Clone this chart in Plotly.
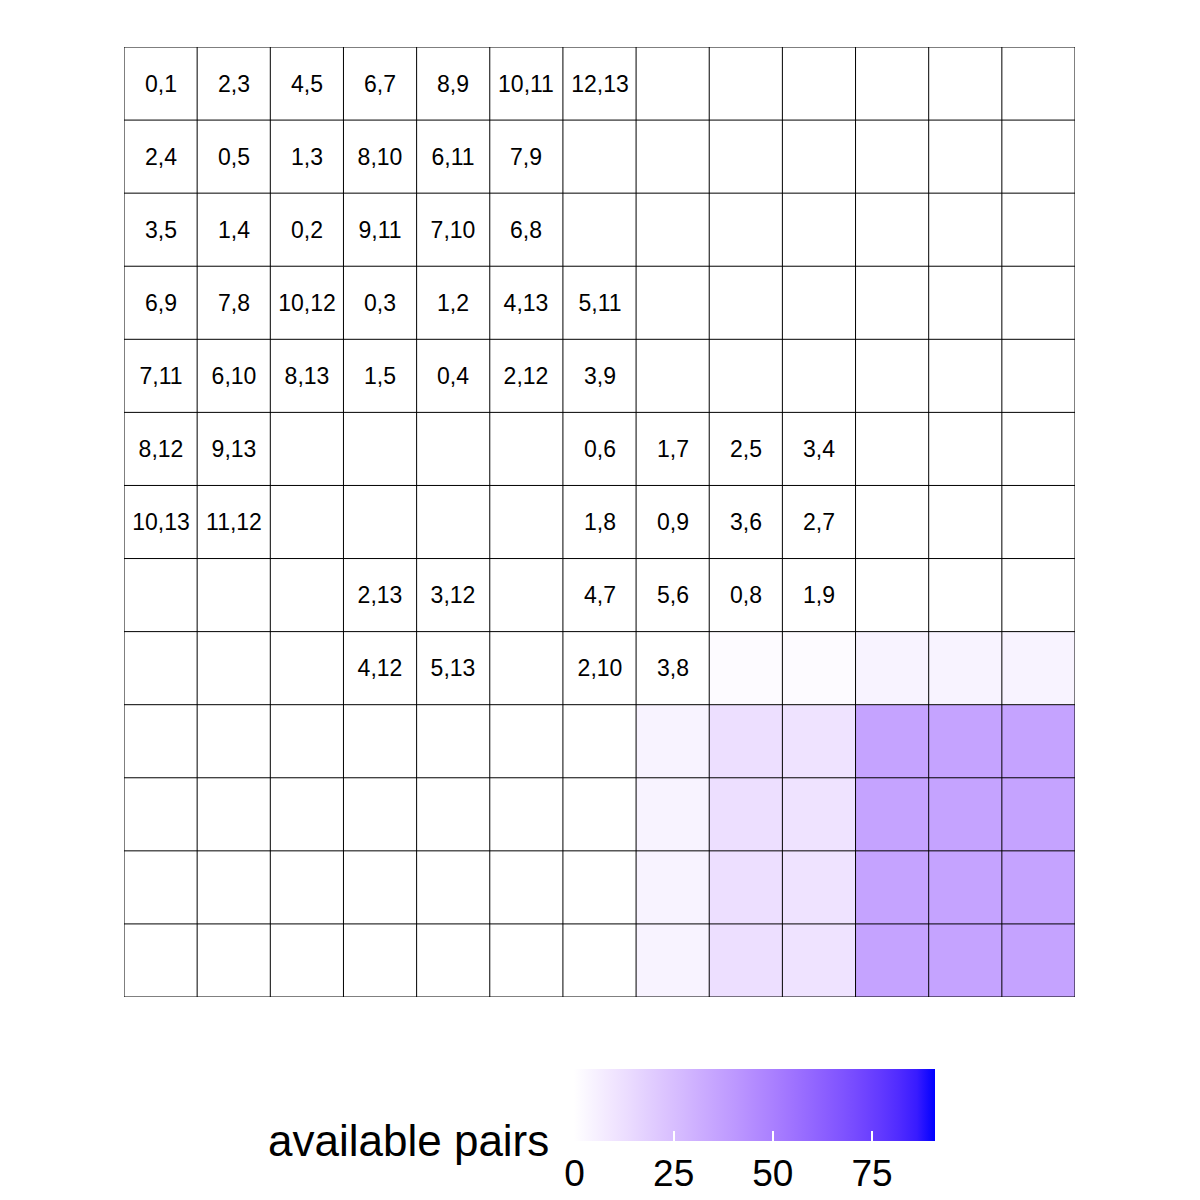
import plotly.graph_objects as go

# ---------------- data ----------------
n = 13
row_labels = [
    ["0,1", "2,3", "4,5", "6,7", "8,9", "10,11", "12,13", "", "", "", "", "", ""],
    ["2,4", "0,5", "1,3", "8,10", "6,11", "7,9", "", "", "", "", "", "", ""],
    ["3,5", "1,4", "0,2", "9,11", "7,10", "6,8", "", "", "", "", "", "", ""],
    ["6,9", "7,8", "10,12", "0,3", "1,2", "4,13", "5,11", "", "", "", "", "", ""],
    ["7,11", "6,10", "8,13", "1,5", "0,4", "2,12", "3,9", "", "", "", "", "", ""],
    ["8,12", "9,13", "", "", "", "", "0,6", "1,7", "2,5", "3,4", "", "", ""],
    ["10,13", "11,12", "", "", "", "", "1,8", "0,9", "3,6", "2,7", "", "", ""],
    ["", "", "", "2,13", "3,12", "", "4,7", "5,6", "0,8", "1,9", "", "", ""],
    ["", "", "", "4,12", "5,13", "", "2,10", "3,8", "", "", "", "", ""],
    ["", "", "", "", "", "", "", "", "", "", "", "", ""],
    ["", "", "", "", "", "", "", "", "", "", "", "", ""],
    ["", "", "", "", "", "", "", "", "", "", "", "", ""],
    ["", "", "", "", "", "", "", "", "", "", "", "", ""],
]
available = [
    [0] * 13,
    [0] * 13,
    [0] * 13,
    [0] * 13,
    [0] * 13,
    [0] * 13,
    [0] * 13,
    [0] * 13,
    [0, 0, 0, 0, 0, 0, 0, 0, 1.6, 1.6, 4.4, 4.4, 4.4],
    [0, 0, 0, 0, 0, 0, 0, 4.4, 12.6, 10.9, 36, 36, 36],
    [0, 0, 0, 0, 0, 0, 0, 4.4, 12.6, 10.9, 36, 36, 36],
    [0, 0, 0, 0, 0, 0, 0, 4.4, 12.6, 10.9, 36, 36, 36],
    [0, 0, 0, 0, 0, 0, 0, 4.4, 12.6, 10.9, 36, 36, 36],
]
zmin, zmax = 0, 91
cbar_ticks = [0, 25, 50, 75]
cols = list(range(n))
rows = list(range(n))

# --------- Lab interpolated colour scale white -> blue ---------
def srgb_to_lin(c):
    c = c / 255
    return c / 12.92 if c <= 0.04045 else ((c + 0.055) / 1.055) ** 2.4

def lin_to_srgb(c):
    c = max(0.0, min(1.0, c))
    v = 12.92 * c if c <= 0.0031308 else 1.055 * c ** (1 / 2.4) - 0.055
    return round(v * 255)

Xn, Yn, Zn = 0.95047, 1.0, 1.08883

def f(t):
    return t ** (1 / 3) if t > 0.008856 else 7.787 * t + 16 / 116

def finv(t):
    return t ** 3 if t ** 3 > 0.008856 else (t - 16 / 116) / 7.787

def rgb_to_lab(rgb):
    r, g, b = [srgb_to_lin(c) for c in rgb]
    X = 0.4124 * r + 0.3576 * g + 0.1805 * b
    Y = 0.2126 * r + 0.7152 * g + 0.0722 * b
    Z = 0.0193 * r + 0.1192 * g + 0.9505 * b
    fx, fy, fz = f(X / Xn), f(Y / Yn), f(Z / Zn)
    return (116 * fy - 16, 500 * (fx - fy), 200 * (fy - fz))

def lab_to_rgb(lab):
    L, a, b = lab
    fy = (L + 16) / 116
    fx = fy + a / 500
    fz = fy - b / 200
    X, Y, Z = Xn * finv(fx), Yn * finv(fy), Zn * finv(fz)
    r = 3.2406 * X - 1.5372 * Y - 0.4986 * Z
    g = -0.9689 * X + 1.8758 * Y + 0.0415 * Z
    bb = 0.0557 * X - 0.2040 * Y + 1.0570 * Z
    return (lin_to_srgb(r), lin_to_srgb(g), lin_to_srgb(bb))

lab_lo = rgb_to_lab((255, 255, 255))
lab_hi = rgb_to_lab((0, 0, 255))
colorscale = []
steps = 20
for i in range(steps + 1):
    t = i / steps
    lab = tuple(lo + (hi - lo) * t for lo, hi in zip(lab_lo, lab_hi))
    r, g, b = lab_to_rgb(lab)
    colorscale.append([t, f"rgb({r},{g},{b})"])

# ---------------- figure ----------------
W, H = 1200, 1200
OFF = 8  # page body margin
ml, mt = 124 - OFF, 47 - OFF
pw, ph = 951, 950
mr, mb = W - ml - pw, H - mt - ph

def px_x(px):  # screen px -> paper x
    return (px - OFF - ml) / pw

def px_y(py):  # screen px -> paper y
    return (mt + ph - (py - OFF)) / ph

bar_l, bar_r, bar_t, bar_b = 577, 935, 1069, 1141
FONT = "Liberation Sans, Arial, Helvetica, sans-serif"

fig = go.Figure(
    go.Heatmap(
        z=available,
        x=cols,
        y=rows,
        text=row_labels,
        texttemplate="%{text}",
        textfont=dict(size=23, color="black", family=FONT),
        colorscale=colorscale,
        zmin=zmin,
        zmax=zmax,
        hoverinfo="skip",
        colorbar=dict(
            orientation="h",
            thickness=bar_b - bar_t,
            thicknessmode="pixels",
            len=(bar_r - bar_l + 3) / pw,
            lenmode="fraction",
            x=px_x((bar_l + bar_r) / 2 - 1),
            xanchor="center",
            y=px_y(bar_t),
            yanchor="top",
            xpad=0,
            ypad=0,
            outlinewidth=0,
            tickvals=cbar_ticks,
            ticktext=[str(v) for v in cbar_ticks],
            ticks="inside",
            ticklen=10,
            tickwidth=2,
            tickcolor="white",
            tickfont=dict(size=37, color="black", family=FONT),
        ),
    )
)

# grid lines at cell boundaries
for i in range(n + 1):
    b = i - 0.5
    fig.add_shape(type="line", x0=b, x1=b, y0=-0.5, y1=n - 0.5,
                  line=dict(color="black", width=1), layer="above")
    fig.add_shape(type="line", x0=-0.5, x1=n - 0.5, y0=b, y1=b,
                  line=dict(color="black", width=1), layer="above")

fig.add_annotation(
    text="available pairs",
    xref="paper", yref="paper",
    x=px_x(551), y=px_y(1140),
    xanchor="right", yanchor="middle",
    showarrow=False,
    font=dict(size=44, color="black", family=FONT),
)

fig.update_xaxes(range=[-0.5, n - 0.5], showgrid=False, zeroline=False,
                 showticklabels=False, ticks="", showline=False, fixedrange=True)
fig.update_yaxes(range=[n - 0.5, -0.5], showgrid=False, zeroline=False,
                 showticklabels=False, ticks="", showline=False, fixedrange=True)

fig.update_layout(
    width=W, height=H,
    margin=dict(l=ml, r=mr, t=mt, b=mb, pad=0, autoexpand=False),
    plot_bgcolor="white",
    paper_bgcolor="white",
    showlegend=False,
    font=dict(family=FONT),
)

fig.write_html("out.html")
